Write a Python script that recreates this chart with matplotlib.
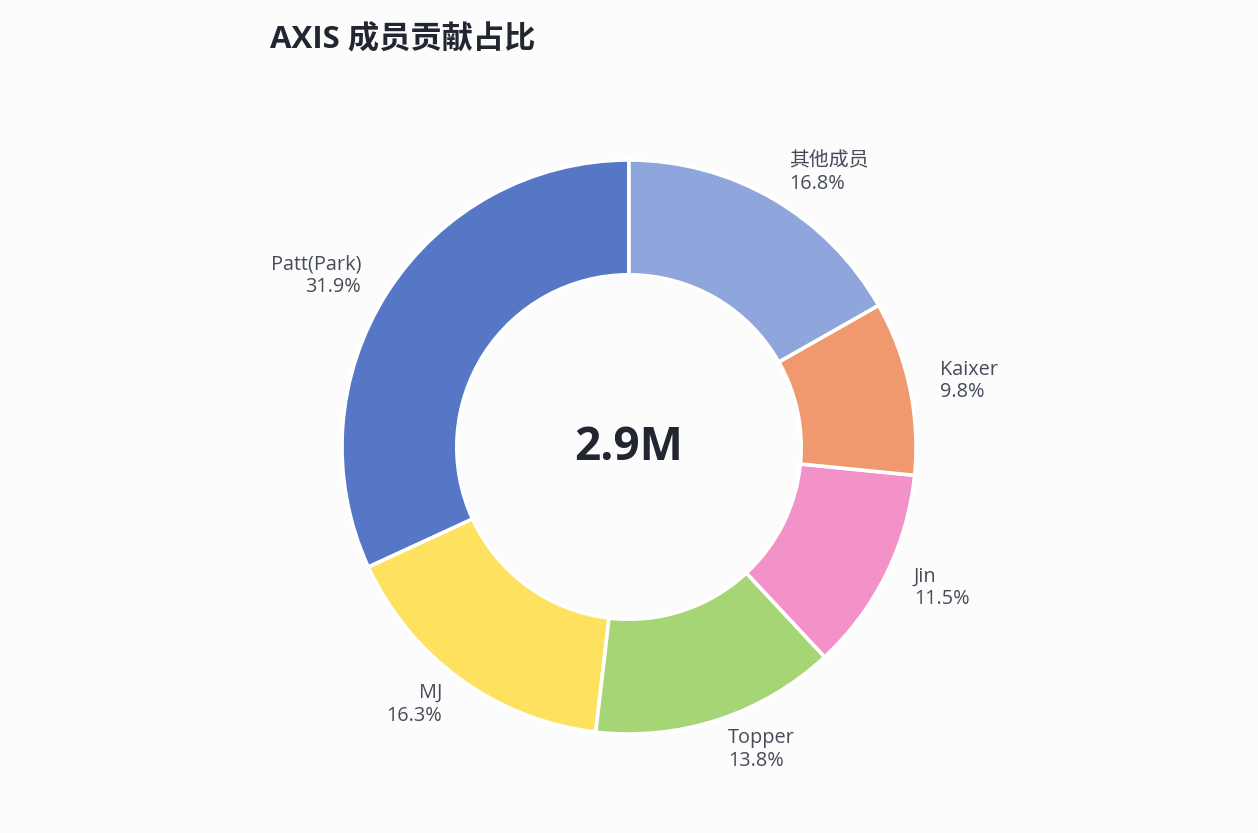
import numpy as np
import matplotlib
matplotlib.use("Agg")
import matplotlib.pyplot as plt

plt.rcParams['font.family'] = ['Open Sans', 'Noto Sans CJK SC', 'DejaVu Sans']

# Data
names = ["Patt(Park)", "MJ", "Topper", "Jin", "Kaixer", "其他成员"]
shares = [31.9, 16.3, 13.8, 11.5, 9.8, 16.8]
colors = ["#5577c5", "#fee15e", "#a5d574", "#f391c9", "#f0996e", "#8fa6dc"]
title = "AXIS 成员贡献占比"
center_label = "2.9M"

W, H = 1258, 833
R_PX = 287.0
CX, CY = 629.0, 447.0  # from top-left

fig = plt.figure(figsize=(W / 100, H / 100), dpi=100, facecolor="#fcfcfc")
ax = fig.add_axes([0, 0, 1, 1])
ax.set_facecolor("#fcfcfc")

wedges, _ = ax.pie(shares, colors=colors, startangle=90, counterclock=True,
                   radius=1.0, wedgeprops=dict(width=0.4, edgecolor="white", linewidth=2.6))

ax.set_aspect("auto")
ax.set_xlim(-CX / R_PX, (W - CX) / R_PX)
ax.set_ylim(-(H - CY) / R_PX, CY / R_PX)
ax.axis("off")

total = sum(shares)
cum = 0.0
for n, s in zip(names, shares):
    mid = 90 + 360 * (cum + s / 2) / total
    cum += s
    a = np.deg2rad(mid)
    x, y = 1.108 * np.cos(a), 1.108 * np.sin(a)
    ha = "left" if np.cos(a) > 0 else "right"
    ax.text(x, y, f"{n}\n{s:.1f}%", ha=ha, va="center", fontsize=14.3,
            color="#464c59", linespacing=1.18, multialignment=ha)

ax.text(0, 0, center_label, ha="center", va="center", fontsize=33,
        fontweight="bold", color="#222631")

fig.text(270 / W, 1 - 40 / H, title, ha="left", va="center", fontsize=22.5,
         fontweight="bold", color="#222631")

fig.savefig("out.png", dpi=100, facecolor=fig.get_facecolor())
